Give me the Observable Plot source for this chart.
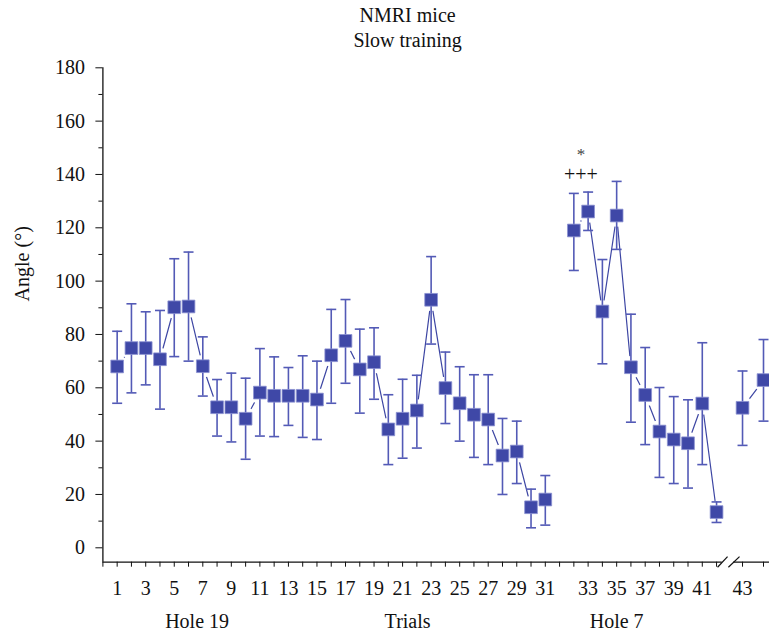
<!DOCTYPE html>
<html>
<head>
<meta charset="utf-8">
<script src="https://cdn.jsdelivr.net/npm/d3@7"></script>
<script src="https://cdn.jsdelivr.net/npm/@observablehq/plot@0.6"></script>
<style>
  html, body { margin: 0; padding: 0; background: #fff; }
  #chart svg { display: block; }
</style>
</head>
<body>
<div id="chart"></div>
<script>
// ---- Data ----
const trials = [1,2,3,4,5,6,7,8,9,10,11,12,13,14,15,16,17,18,19,20,21,22,23,24,25,26,27,28,29,30,31,
                32,33,34,35,36,37,38,39,40,41,42,43,44];
const means = [68.0,74.9,74.9,70.7,90.2,90.5,68.1,52.7,52.7,48.4,58.2,57.0,57.0,57.0,55.6,72.2,77.6,66.9,69.6,44.4,48.4,51.5,93.0,59.9,54.2,49.9,48.1,34.6,36.1,15.2,18.1,
               119.0,126.1,88.6,124.6,67.7,57.3,43.6,40.6,39.2,54.1,13.4,52.5,62.9];
const upper = [81.2,91.5,88.5,89.0,108.4,110.9,79.1,63.1,65.5,63.6,74.7,71.6,67.6,72.0,70.0,89.4,93.1,82.0,82.5,57.4,63.2,64.7,109.2,73.4,67.9,64.9,64.9,48.5,47.5,22.0,27.1,
               132.9,133.4,108.1,137.4,87.6,75.1,60.1,56.7,55.5,76.9,17.2,66.3,78.1];
const lower = [54.2,58.1,61.1,52.0,71.7,70.0,56.9,41.9,39.7,33.2,41.9,41.7,45.9,41.4,40.6,54.2,61.7,50.5,55.7,31.2,33.6,37.4,76.4,46.6,40.0,33.9,31.2,20.0,24.1,7.5,8.5,
               104.0,119.0,69.0,111.9,47.1,38.7,26.4,24.1,22.4,31.2,9.5,38.4,47.5];

const lastHole19 = 31;   // trials 1–31: hole 19
const lastHole7 = 42;    // trials 32–42: hole 7; after an axis break: 43–44
const xTickLabels = [1,3,5,7,9,11,13,15,17,19,21,23,25,27,29,31,33,35,37,39,41,43];
const yMajorTicks = [0,20,40,60,80,100,120,140,160,180];
const yMinorTicks = [10,30,50,70,90,110,130,150,170];
const groupLabels = [{text: "Hole 19", at: 6.6}, {text: "Trials", at: 21.35}, {text: "Hole 7", at: 36.0}];
const titleLines = ["NMRI mice", "Slow training"];
const yLabel = "Angle (°)";
const annotations = [{text: "*", between: [32, 33], y: 145.6, size: 17, color: "#444"},
                     {text: "+++", between: [32, 33], y: 137.4, size: 20, color: "#111"}];

// ---- Axis layout: one empty slot after trial 31, axis break after trial 42 ----
const postBreakStart = 44.82, postBreakStep = 1.47;
function slot(t) {
  if (t <= lastHole19) return t;
  if (t <= lastHole7) return t + 1;
  return postBreakStart + (t - lastHole7 - 1) * postBreakStep;
}
const xMax = 46.71, yMin = -5.4;
const breakFrom = 43.4, breakTo = 44.2;

const rows = trials.map((t, i) => ({
  trial: t, pos: slot(t), mean: means[i], hi: upper[i], lo: lower[i],
  seg: t <= lastHole19 ? "a" : t <= lastHole7 ? "b" : "c"
}));

const allTickSlots = d3.range(0, slot(lastHole7) + 1).concat(trials.filter(t => t > lastHole7).map(slot));
const labelSlots = xTickLabels.map(slot);
const labelBySlot = new Map(xTickLabels.map(t => [slot(t), String(t)]));

const capSymbol = { draw(ctx, size) { const w = Math.sqrt(size) / 2; ctx.moveTo(-w, 0); ctx.lineTo(w, 0); } };

const markerFill = "#3f48a7";
const barColor = "#535ab6";
const lineColor = "#3d46a3";

const chart = Plot.plot({
  width: 769,
  height: 637,
  marginLeft: 102.4,
  marginRight: 0,
  marginTop: 67.3,
  marginBottom: 75.3,
  x: { domain: [0, xMax], axis: null },
  y: { domain: [yMin, 180], axis: null },
  style: { fontFamily: "'Liberation Serif', 'DejaVu Serif', serif", fontSize: "20px", color: "#111", background: "#fff", overflow: "visible" },
  marks: [
    // axis lines
    Plot.ruleX([0], { stroke: "#111", strokeWidth: 1.3 }),
    Plot.ruleY([{ y: yMin, x1: 0, x2: breakFrom }, { y: yMin, x1: breakTo, x2: xMax }],
               { y: "y", x1: "x1", x2: "x2", stroke: "#111", strokeWidth: 1.3 }),
    Plot.link([{ x1: breakFrom - 0.33, x2: breakFrom + 0.37, y1: yMin - 1.9, y2: yMin + 2.1 },
               { x1: breakTo - 0.37, x2: breakTo + 0.41, y1: yMin - 1.9, y2: yMin + 2.1 }],
              { x1: "x1", x2: "x2", y1: "y1", y2: "y2", stroke: "#111", strokeWidth: 1.2 }),
    // y axis ticks
    Plot.axisY(yMajorTicks, { tickSize: 7, tickPadding: 11, label: null, stroke: "#111", fill: "#111" }),
    Plot.axisY(yMinorTicks, { tickSize: 4, tickFormat: () => "", label: null, stroke: "#111" }),
    // x axis ticks
    Plot.axisX(allTickSlots.filter(s => !labelBySlot.has(s)), { tickSize: 5, tickFormat: () => "", label: null, stroke: "#111" }),
    Plot.axisX(labelSlots, { tickSize: 5, tickPadding: 14, tickFormat: s => labelBySlot.get(s), label: null, stroke: "#111", fill: "#111" }),
    // connecting lines, with a gap around each marker
    Plot.line(rows, { x: "pos", y: "mean", z: "seg", stroke: lineColor, strokeWidth: 1.2 }),
    Plot.dot(rows, { x: "pos", y: "mean", r: 11.3, fill: "#fff", stroke: "none" }),
    // error bars
    Plot.ruleX(rows, { x: "pos", y1: "lo", y2: "hi", stroke: barColor, strokeWidth: 1.6 }),
    Plot.dot(rows, { x: "pos", y: "hi", symbol: capSymbol, r: 5.64, fill: "none", stroke: barColor, strokeWidth: 1.6 }),
    Plot.dot(rows, { x: "pos", y: "lo", symbol: capSymbol, r: 5.64, fill: "none", stroke: barColor, strokeWidth: 1.6 }),
    // markers
    Plot.dot(rows, { x: "pos", y: "mean", symbol: "square", r: 7.17, fill: markerFill, stroke: "#8c92d2", strokeWidth: 0.8 }),
    // significance marks
    ...annotations.map(a => Plot.text([a], {
      x: d => (slot(d.between[0]) + slot(d.between[1])) / 2, y: "y", text: "text",
      lineAnchor: "bottom", fontSize: a.size, fill: a.color
    })),
    // group labels under the axis
    Plot.text(groupLabels, { x: "at", text: "text", frameAnchor: "bottom", lineAnchor: "bottom", dy: 65.6, fill: "#111" }),
    // y label
    Plot.text([yLabel], { frameAnchor: "left", y: 92.4, dx: -80, rotate: -90, lineAnchor: "middle", fill: "#111" }),
    // title lines
    Plot.text([titleLines[0]], { x: 21.35, frameAnchor: "top", lineAnchor: "bottom", dy: -46.3, fill: "#111" }),
    Plot.text([titleLines[1]], { x: 21.35, frameAnchor: "top", lineAnchor: "bottom", dy: -21.3, fill: "#111" })
  ]
});
document.getElementById("chart").appendChild(chart);
</script>
</body>
</html>
